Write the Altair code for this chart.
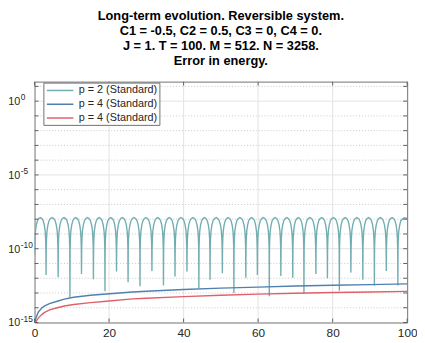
import altair as alt
import pandas as pd

# ---------------- data ----------------
title_lines = [
    "Long-term evolution. Reversible system.",
    "C1 = -0.5, C2 = 0.5, C3 = 0, C4 = 0.",
    "J = 1. T = 100. M = 512. N = 3258.",
    "Error in energy.",
]
series_ids = ["s1", "s2", "s3"]
series_names = ["p = 2 (Standard)", "p = 4 (Standard)", "p = 4 (Standard)"]
series_colors = ["#72adb1", "#4f80b0", "#e0606a"]

# p = 2: oscillating error (log10 values)
p2_start_t = 0.0
p2_start_log = -10.4
p2_dip_t = [3.09, 6.33, 9.5, 12.6, 15.8, 18.9, 22.0, 25.1, 28.3, 31.5, 34.6,
            37.7, 40.9, 44.1, 47.1, 50.4, 53.5, 56.7, 59.8, 63.0, 66.1, 69.3,
            72.3, 75.5, 78.6, 81.8, 84.9, 88.1, 91.2, 94.4, 97.5]
p2_dip_log = [-11.78, -11.93, -13.33, -11.71, -12.07, -12.89, -11.55, -12.27,
              -12.55, -11.51, -12.49, -11.89, -11.55, -12.67, -12.1, -11.67,
              -13.0, -11.96, -11.78, -13.22, -11.85, -11.96, -13.07, -11.71,
              -12.0, -12.85, -11.62, -12.11, -12.49, -11.51, -12.5]
# shape of one arch between two dips (fraction of the gap, log10 value)
arch_phase = [0.015, 0.04, 0.08, 0.15, 0.25, 0.35, 0.5, 0.65, 0.75, 0.85, 0.92, 0.96, 0.985]
arch_log = [-10.0, -9.3, -8.8, -8.4, -8.1, -7.97, -7.89, -7.97, -8.1, -8.4, -8.8, -9.3, -10.0]
p2_tail_t = [97.55, 97.62, 97.75, 98.0, 98.3, 98.8, 99.3, 100.0]
p2_tail_log = [-10.0, -9.3, -8.8, -8.4, -8.1, -7.97, -7.9, -7.95]

# p = 4 (blue)
p4a_t = [0.05, 0.3, 1, 2, 2.6, 4, 6.1, 8, 10.5, 15, 19.3, 26.3, 30, 40, 50, 60, 70, 80, 90, 100]
p4a_log = [-15.0, -14.75, -14.3, -14.0, -13.89, -13.72, -13.56, -13.42, -13.29,
           -13.15, -13.07, -12.93, -12.88, -12.76, -12.67, -12.6, -12.53, -12.48, -12.43, -12.38]
# p = 4 (red)
p4b_t = [0.3, 0.6, 1, 2, 2.6, 4, 6.1, 8, 10.5, 15, 19.3, 26.3, 30, 40, 50, 60, 70, 80, 90, 100]
p4b_log = [-15.0, -14.85, -14.7, -14.45, -14.33, -14.15, -14.0, -13.88, -13.78,
           -13.65, -13.56, -13.4, -13.36, -13.25, -13.15, -13.08, -13.02, -12.97, -12.93, -12.89]

x_ticks = [0, 20, 40, 60, 80, 100]
y_major = [1e0, 1e-5, 1e-10, 1e-15]
y_major_exp = ["0", "-5", "-10", "-15"]
y_decades = [10.0 ** e for e in range(-15, 2)]

# ---------------- build table ----------------
rows = [(p2_start_t, p2_start_log, "s1", 0)]
prev = p2_start_t
for t_d, l_d in zip(p2_dip_t, p2_dip_log):
    for ph, lv in zip(arch_phase, arch_log):
        rows.append((prev + ph * (t_d - prev), lv, "s1", 0))
    rows.append((t_d, l_d, "s1", 0))
    prev = t_d
for t, lv in zip(p2_tail_t, p2_tail_log):
    rows.append((t, lv, "s1", 0))
for t, lv in zip(p4a_t, p4a_log):
    rows.append((t, lv, "s2", 1))
for t, lv in zip(p4b_t, p4b_log):
    rows.append((t, lv, "s3", 2))
df = pd.DataFrame(rows, columns=["t", "lg", "sid", "ord"])
df["err"] = 10.0 ** df["lg"]

W, H = 379, 245
FONT = "Liberation Sans"
TXT = "#262626"
xscale = alt.Scale(domain=[0, 100], nice=False, zero=False)
yscale = alt.Scale(type="log", domain=[1e-15, 21], nice=False)

xaxis = alt.Axis(values=x_ticks, title=None, ticks=False, grid=False, domain=False,
                 labelFont=FONT, labelFontSize=12, labelColor=TXT, labelPadding=5,
                 labelFlush=False)

label_expr = ""
for i, n in zip(series_ids[:-1], series_names[:-1]):
    label_expr += f"datum.label == '{i}' ? '{n}' : "
label_expr += f"'{series_names[-1]}'"

base_x = alt.X("t:Q", scale=xscale, axis=xaxis)


def Yf(field):
    return alt.Y(field, scale=yscale, axis=None)


# grid lines
xgrid_df = pd.DataFrame({"t": x_ticks[1:-1]})
ymaj_df = pd.DataFrame({"v": [v for v in y_major if 1e-15 < v]})
ymin_df = pd.DataFrame({"v": [v for v in y_decades if v not in y_major]})
ytick_df = pd.DataFrame({"v": y_decades})
xtick_df = pd.DataFrame({"t": x_ticks})
ylab_df = pd.DataFrame({"v": y_major, "e": y_major_exp})

xgrid = alt.Chart(xgrid_df).mark_rule(color="#e2e2e2", strokeWidth=1).encode(
    x=base_x, y=alt.value(0), y2=alt.value(H))
ymaj = alt.Chart(ymaj_df).mark_rule(color="#e2e2e2", strokeWidth=1).encode(
    y=Yf("v:Q"), x=alt.value(0), x2=alt.value(W))
ymin = alt.Chart(ymin_df).mark_rule(color="#c8c8c8", strokeWidth=1, strokeDash=[1, 2]).encode(
    y=Yf("v:Q"), x=alt.value(0), x2=alt.value(W))

lines = alt.Chart(df).mark_line(strokeWidth=1.4, clip=True).encode(
    x=base_x,
    y=Yf("err:Q"),
    color=alt.Color("sid:N", scale=alt.Scale(domain=series_ids, range=series_colors),
                    legend=alt.Legend(title=None, orient="none", legendX=9, legendY=1,
                                      labelExpr=label_expr, symbolType="M-2.7,0H2.7",
                                      symbolSize=100, symbolStrokeWidth=1.5,
                                      symbolOffset=9, labelOffset=13,
                                      labelFont=FONT, labelFontSize=11, labelColor=TXT,
                                      fillColor="white", strokeColor="#707070",
                                      padding=2, rowPadding=3, cornerRadius=0)),
    order=alt.Order("ord:Q"),
    detail="sid:N",
)

# y tick labels: "10" with raised exponent
ylab_base = alt.Chart(ylab_df).mark_text(
    text="10", align="right", baseline="middle", font=FONT, fontSize=11, color=TXT, dy=1
).encode(y=Yf("v:Q"), x=alt.value(-14.5))
ylab_exp = alt.Chart(ylab_df).mark_text(
    align="left", baseline="middle", font=FONT, fontSize=8.5, color=TXT, dy=-4
).encode(y=Yf("v:Q"), x=alt.value(-14), text="e:N")

tick_col = "#606060"
yt_left = alt.Chart(ytick_df).mark_rule(color=tick_col, strokeWidth=1).encode(
    y=Yf("v:Q"), x=alt.value(0), x2=alt.value(4))
yt_right = alt.Chart(ytick_df).mark_rule(color=tick_col, strokeWidth=1).encode(
    y=Yf("v:Q"), x=alt.value(W - 4), x2=alt.value(W))
xt_bot = alt.Chart(xtick_df).mark_rule(color=tick_col, strokeWidth=1).encode(
    x=base_x, y=alt.value(H - 4), y2=alt.value(H))
xt_top = alt.Chart(xtick_df).mark_rule(color=tick_col, strokeWidth=1).encode(
    x=base_x, y=alt.value(0), y2=alt.value(4))

chart = alt.layer(xgrid, ymaj, ymin, lines, yt_left, yt_right, xt_bot, xt_top,
                  ylab_base, ylab_exp).properties(
    width=W, height=H,
    autosize=alt.AutoSizeParams(type="none"),
    padding={"left": 27, "top": 72, "right": 10, "bottom": 20},
    title=alt.TitleParams(text=title_lines, font=FONT, fontSize=13, fontWeight="bold",
                          color="#000000", anchor="middle", frame="group",
                          lineHeight=15.5, baseline="bottom", offset=0),
).configure_view(stroke="#707070", strokeWidth=1)

chart.save("out.html", embed_options={"renderer": "svg", "actions": False})
